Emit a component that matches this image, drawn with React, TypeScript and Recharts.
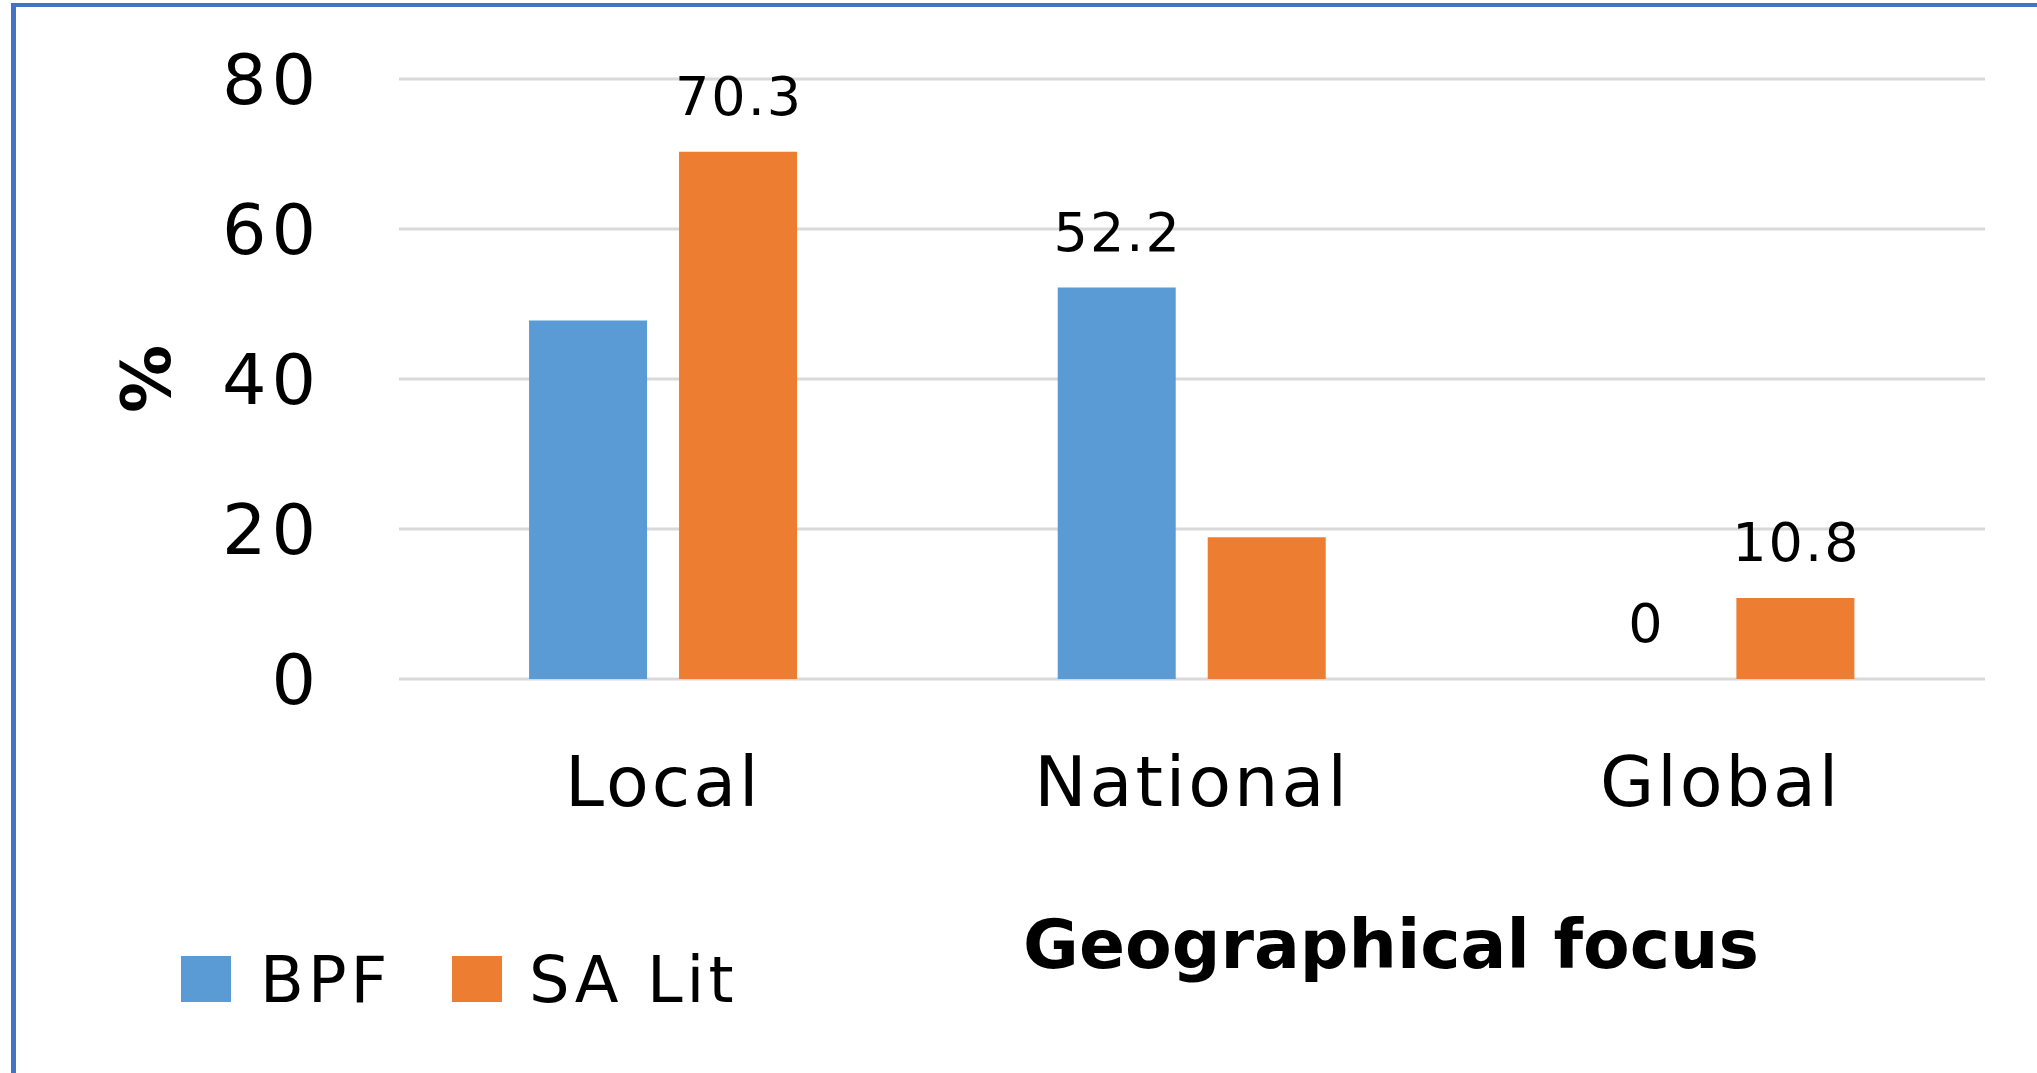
import React from 'react';
import { BarChart, Bar, XAxis, YAxis, CartesianGrid, Legend, LabelList } from 'recharts';

const categories = ['Local', 'National', 'Global'];
const bpfValues = [47.8, 52.2, 0];
const saLitValues = [70.3, 18.9, 10.8];
const bpfLabels = ['', '52.2', '0'];
const saLitLabels = ['70.3', '', '10.8'];
const yTicks = [0, 20, 40, 60, 80];
const seriesNames = ['BPF', 'SA Lit'];
const seriesColors = ['#5B9BD5', '#ED7D31'];
const yAxisTitle = '%';
const xAxisTitle = 'Geographical focus';

const data = categories.map((c, i) => ({
  category: c,
  bpf: bpfValues[i],
  saLit: saLitValues[i],
  bpfLabel: bpfLabels[i],
  saLitLabel: saLitLabels[i],
}));

const W = 2037;
const H = 1073;
const FONT = 'DejaVu Sans';

const legendItemX = [181, 452];
const legendTextX = [260, 529];

const renderLegend = (props: any) => {
  const payload = props && props.payload && props.payload.length ? props.payload : seriesNames.map((n, i) => ({ value: n, color: seriesColors[i] }));
  return (
    <svg width={W} height={130} style={{ display: 'block' }}>
      {payload.map((p: any, i: number) => (
        <g key={i}>
          <rect x={legendItemX[i]} y={13} width={50} height={46} fill={p.color} />
          <text x={legendTextX[i]} y={59} fontFamily={FONT} fontSize={64} letterSpacing={4} fill="#000">
            {p.value}
          </text>
        </g>
      ))}
    </svg>
  );
};

const renderYTitle = (props: any) => {
  const vb = props.viewBox || { x: 0, y: 0, width: 0, height: 0 };
  const cx = vb.x + 146;
  const cy = vb.y + vb.height / 2;
  return (
    <text
      x={cx}
      y={cy}
      dy="0.36em"
      transform={`rotate(-90, ${cx}, ${cy})`}
      textAnchor="middle"
      fontFamily={FONT}
      fontWeight="bold"
      fontSize={68}
      fill="#000"
    >
      {yAxisTitle}
    </text>
  );
};

const renderXTitle = (props: any) => {
  const vb = props.viewBox || { x: 0, y: 0, width: 0, height: 0 };
  return (
    <text
      x={vb.x + 992}
      y={vb.y + 289}
      textAnchor="middle"
      fontFamily={FONT}
      fontWeight="bold"
      fontSize={68}
      fill="#000"
    >
      {xAxisTitle}
    </text>
  );
};

const renderValueLabel = (props: any) => {
  const { x, y, width, height, value } = props;
  if (value === '' || value == null) return null;
  const cx = Number(x) + Number(width) / 2 + 1;
  const top = Math.min(Number(y), Number(y) + Number(height || 0));
  return (
    <text
      x={cx}
      y={top - 37}
      textAnchor="middle"
      fontFamily={FONT}
      fontSize={54}
      letterSpacing={2}
      fill="#000"
    >
      {value}
    </text>
  );
};

export default function App() {
  return (
    <div style={{ position: 'fixed', left: 0, top: 0, width: W, height: H, background: '#fff', overflow: 'hidden' }}>
      <div
        style={{
          position: 'absolute',
          left: 11,
          top: 3,
          width: W + 100,
          height: H + 100,
          borderTop: '4px solid #4472C4',
          borderLeft: '5px solid #4472C4',
        }}
      />
      <div style={{ position: 'absolute', left: 0, top: 0 }}>
        <BarChart
          width={W}
          height={H}
          data={data}
          margin={{ top: 79, right: 52, left: 0, bottom: 0 }}
          barCategoryGap="24.6%"
          barGap={32}
        >
          <CartesianGrid vertical={false} stroke="#D9D9D9" strokeWidth={3} />
          <XAxis
            dataKey="category"
            axisLine={false}
            tickLine={false}
            tickSize={0}
            tickMargin={77}
            height={264}
            interval={0}
            tick={{ fontFamily: FONT, fontSize: 70, fill: '#000', letterSpacing: 3 }}
            label={{ content: renderXTitle }}
          />
          <YAxis
            domain={[0, 80]}
            ticks={yTicks}
            interval={0}
            width={399}
            axisLine={false}
            tickLine={false}
            tickSize={0}
            tickMargin={78}
            tick={{ fontFamily: FONT, fontSize: 70, fill: '#000', letterSpacing: 5 }}
            label={{ content: renderYTitle }}
          />
          <Legend
            verticalAlign="bottom"
            content={renderLegend}
            wrapperStyle={{ left: 0, bottom: 0, width: W, height: 130 }}
          />
          <Bar dataKey="bpf" name={seriesNames[0]} fill={seriesColors[0]} minPointSize={0.01} isAnimationActive={false}>
            <LabelList dataKey="bpfLabel" position="top" content={renderValueLabel} />
          </Bar>
          <Bar dataKey="saLit" name={seriesNames[1]} fill={seriesColors[1]} minPointSize={0.01} isAnimationActive={false}>
            <LabelList dataKey="saLitLabel" position="top" content={renderValueLabel} />
          </Bar>
        </BarChart>
      </div>
    </div>
  );
}
